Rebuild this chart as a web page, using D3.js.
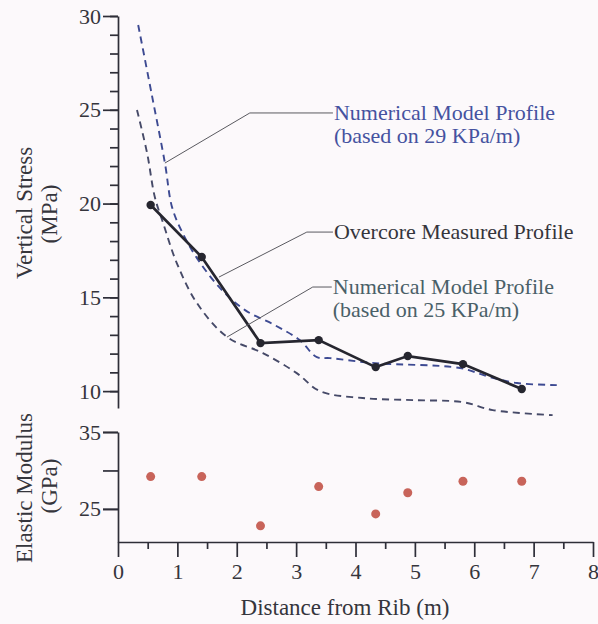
<!DOCTYPE html>
<html><head><meta charset="utf-8">
<script src="https://cdn.jsdelivr.net/npm/d3@7"></script>
<style>
html,body{margin:0;padding:0;background:#fcf9fb;}
svg text{font-family:"Liberation Serif","Times New Roman",serif;}
</style></head>
<body>
<svg id="chart" width="598" height="624"></svg>
<script>
// ---- data ----
const distance = [0.55, 1.41, 2.40, 3.38, 4.34, 4.88, 5.81, 6.80];
const overcoreStress = [19.92, 17.15, 12.56, 12.72, 11.28, 11.87, 11.44, 10.11];
const elasticModulus = [29.2, 29.2, 22.8, 27.9, 24.35, 27.1, 28.6, 28.6];

const model29x = [0.34, 0.57, 0.79, 0.91, 1.08, 1.33, 1.72, 2.14, 2.64, 3.06, 3.35, 3.57, 4.33, 5.76, 6.26, 6.72, 7.39];
const model29y = [29.52, 25.79, 22.16, 19.81, 18.48, 17.09, 15.49, 14.32, 13.52, 12.72, 11.81, 11.76, 11.49, 11.23, 10.75, 10.43, 10.32];
const model25x = [0.32, 0.49, 0.62, 0.76, 0.99, 1.33, 1.84, 2.44, 3.01, 3.40, 4.12, 4.97, 5.81, 6.31, 7.32];
const model25y = [24.99, 22.69, 20.35, 18.96, 16.83, 14.69, 12.88, 12.03, 10.96, 10.00, 9.63, 9.52, 9.41, 8.99, 8.72];

const xTicks = [0, 1, 2, 3, 4, 5, 6, 7, 8];
const xMinorTicks = [0.5, 1.5, 2.5, 3.5, 4.5, 5.5, 6.5, 7.5];
const stressTicks = [10, 15, 20, 25, 30];
const stressMinorTicks = d3.range(10, 31, 1);
const modulusTicks = [25, 35];
const modulusMinorTicks = [25, 30, 35];

const labels29 = ["Numerical Model Profile", "(based on 29 KPa/m)"];
const labelsOver = ["Overcore Measured Profile"];
const labels25 = ["Numerical Model Profile", "(based on 25 KPa/m)"];

// ---- layout ----
const svg = d3.select("#chart");
const x = d3.scaleLinear([0, 8], [118, 593]);
const yTop = d3.scaleLinear([9.1, 30], [408, 16]);
const yBot = d3.scaleLinear([20.7, 35], [542, 432]);

const axisColor = "#2e2e38";
const textColor = "#35353c";

function styleAxis(g, fs) {
  g.selectAll("path.domain").attr("stroke", axisColor).attr("stroke-width", 1.7);
  g.selectAll(".tick line").attr("stroke", axisColor).attr("stroke-width", 1.7);
  g.selectAll(".tick text").attr("fill", textColor).style("font-size", fs + "px")
    .style("font-family", '"Liberation Serif","Times New Roman",serif');
}

// upper y axis
svg.append("g").attr("transform", "translate(118,0)")
  .call(d3.axisLeft(yTop).tickValues(stressMinorTicks).tickSize(8).tickSizeOuter(0).tickFormat(""))
  .call(g => { g.select("path.domain").remove(); styleAxis(g, 22); });
svg.append("g").attr("transform", "translate(118,0)")
  .call(d3.axisLeft(yTop).tickValues(stressTicks).tickSize(15).tickSizeOuter(0).tickPadding(2))
  .call(g => styleAxis(g, 22));

// lower y axis
svg.append("g").attr("transform", "translate(118,0)")
  .call(d3.axisLeft(yBot).tickValues(modulusMinorTicks).tickSize(15).tickSizeOuter(0).tickFormat(""))
  .call(g => styleAxis(g, 22));
svg.append("g").attr("transform", "translate(118,0)")
  .call(d3.axisLeft(yBot).tickValues(modulusTicks).tickSize(15).tickSizeOuter(0).tickPadding(2))
  .call(g => { g.select("path.domain").remove(); styleAxis(g, 22); });

// x axis
svg.append("g").attr("transform", "translate(0,542)")
  .call(d3.axisBottom(x).tickValues(xMinorTicks).tickSize(7).tickSizeOuter(0).tickFormat(""))
  .call(g => { g.select("path.domain").remove(); styleAxis(g, 22); });
svg.append("g").attr("transform", "translate(0,542)")
  .call(d3.axisBottom(x).tickValues(xTicks).tickSize(15).tickSizeOuter(0).tickPadding(6))
  .call(g => styleAxis(g, 22));

// axis titles
const titleFs = 23;
svg.append("text").attr("transform", "translate(32,213) rotate(-90)").attr("text-anchor", "middle")
  .attr("fill", textColor).style("font-size", titleFs + "px").text("Vertical Stress");
svg.append("text").attr("transform", "translate(57,214) rotate(-90)").attr("text-anchor", "middle")
  .attr("fill", textColor).style("font-size", titleFs + "px").text("(MPa)");
svg.append("text").attr("transform", "translate(32,488) rotate(-90)").attr("text-anchor", "middle")
  .attr("fill", textColor).style("font-size", titleFs + "px").text("Elastic Modulus");
svg.append("text").attr("transform", "translate(57,486) rotate(-90)").attr("text-anchor", "middle")
  .attr("fill", textColor).style("font-size", titleFs + "px").text("(GPa)");
svg.append("text").attr("x", 345).attr("y", 615).attr("text-anchor", "middle")
  .attr("fill", textColor).style("font-size", titleFs + "px").text("Distance from Rib (m)");

// model lines (smooth)
const curveLine = d3.line().x(d => x(d[0])).y(d => yTop(d[1])).curve(d3.curveCatmullRom.alpha(0.5));
svg.append("path").datum(d3.zip(model29x, model29y)).attr("d", curveLine)
  .attr("fill", "none").attr("stroke", "#3d4a92").attr("stroke-width", 1.9).attr("stroke-dasharray", "7,5");
svg.append("path").datum(d3.zip(model25x, model25y)).attr("d", curveLine)
  .attr("fill", "none").attr("stroke", "#464a68").attr("stroke-width", 1.9).attr("stroke-dasharray", "7,5");

// overcore measured
const line = d3.line().x(d => x(d[0])).y(d => yTop(d[1]));
const over = d3.zip(distance, overcoreStress);
svg.append("path").datum(over).attr("d", line)
  .attr("fill", "none").attr("stroke", "#26262f").attr("stroke-width", 2.7);
svg.append("g").selectAll("circle").data(over).join("circle")
  .attr("cx", d => x(d[0])).attr("cy", d => yTop(d[1])).attr("r", 4.2).attr("fill", "#26262f");

// elastic modulus
svg.append("g").selectAll("circle").data(d3.zip(distance, elasticModulus)).join("circle")
  .attr("cx", d => x(d[0])).attr("cy", d => yBot(d[1])).attr("r", 4.5).attr("fill", "#c8645a");

// annotations (data coords: anchor, elbow, end x)
const annotations = [
  {anchor: [0.79, 22.16], elbow: [2.22, 24.83], endX: 3.62, lines: labels29, color: "#4552a0", dy: 7},
  {anchor: [1.70, 16.08], elbow: [3.18, 18.48], endX: 3.62, lines: labelsOver, color: "#35353c", dy: 7},
  {anchor: [1.835, 12.88], elbow: [3.28, 15.55], endX: 3.60, lines: labels25, color: "#4a6068", dy: 7}
];
annotations.forEach(a => {
  const pts = [[x(a.anchor[0]), yTop(a.anchor[1])], [x(a.elbow[0]), yTop(a.elbow[1])], [x(a.endX), yTop(a.elbow[1])]];
  svg.append("path").attr("d", d3.line()(pts)).attr("fill", "none").attr("stroke", "#5a5a60").attr("stroke-width", 1);
  const t = svg.append("text").attr("x", x(a.endX) + 1).attr("y", yTop(a.elbow[1]) + a.dy)
    .attr("fill", a.color).style("font-size", "22px");
  a.lines.forEach((s, i) => t.append("tspan").attr("x", x(a.endX) + 1).attr("dy", i === 0 ? 0 : 23).text(s));
});
</script>
</body></html>
